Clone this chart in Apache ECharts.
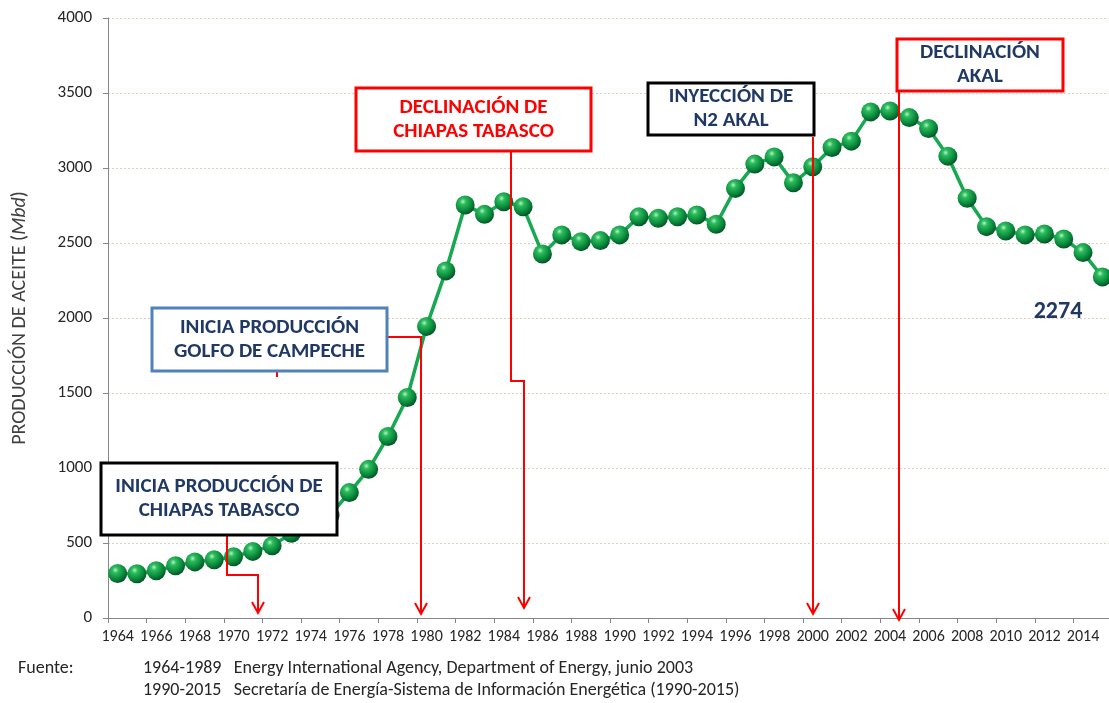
<!DOCTYPE html>
<html>
<head>
<meta charset="utf-8">
<title>Producción de aceite</title>
<script src="https://cdn.jsdelivr.net/npm/echarts@6/dist/echarts.min.js"></script>
<style>
  html, body { margin: 0; padding: 0; background: #fff; }
  #chart { width: 1109px; height: 703px; }
</style>
</head>
<body>
<div id="chart"></div>
<script>
// años (eje X)
const years = [
  '1964', '1965', '1966', '1967', '1968', '1969', '1970', '1971', '1972', '1973',
  '1974', '1975', '1976', '1977', '1978', '1979', '1980', '1981', '1982', '1983',
  '1984', '1985', '1986', '1987', '1988', '1989', '1990', '1991', '1992', '1993',
  '1994', '1995', '1996', '1997', '1998', '1999', '2000', '2001', '2002', '2003',
  '2004', '2005', '2006', '2007', '2008', '2009', '2010', '2011', '2012', '2013',
  '2014', '2015'
];
// producción de aceite, Mbd
const production = [
  297, 295, 315, 348, 374, 388, 408, 444, 481, 565,
  620, 685, 836, 991, 1210, 1470, 1944, 2314, 2753, 2691,
  2775, 2742, 2427, 2554, 2509, 2516, 2554, 2675, 2665, 2675,
  2687, 2625, 2864, 3026, 3074, 2901, 3008, 3137, 3179, 3374,
  3380, 3336, 3263, 3079, 2798, 2609, 2580, 2554, 2560, 2527,
  2436, 2274
];
const lastValue = '2274';

const fontFamily = 'Carlito, Lato, "Open Sans", sans-serif';
const navy = '#1f3864';
const red = '#ff0000';

// cuadros de texto de las anotaciones
const notes = [
  { lines: ['INICIA PRODUCCIÓN DE', 'CHIAPAS TABASCO'], x: 101, y: 463, w: 236, h: 72, border: '#000000', color: navy },
  { lines: ['INICIA PRODUCCIÓN', 'GOLFO DE CAMPECHE'], x: 152, y: 308, w: 235, h: 63, border: '#4f81bd', color: navy },
  { lines: ['DECLINACIÓN DE', 'CHIAPAS TABASCO'], x: 356, y: 88, w: 235, h: 63, border: red, color: red },
  { lines: ['INYECCIÓN DE', 'N2 AKAL'], x: 648, y: 83, w: 166, h: 52, border: '#000000', color: navy },
  { lines: ['DECLINACIÓN', 'AKAL'], x: 897, y: 39, w: 166, h: 52, border: red, color: navy }
];
// flechas rojas (polilíneas que terminan en punta)
const arrows = [
  [[227, 535], [227, 575], [258, 575], [258, 613]],
  [[387, 337], [421, 337], [421, 614]],
  [[511, 151], [511, 381], [524, 381], [524, 608]],
  [[813, 137], [813, 614]],
  [[899, 91], [899, 620]]
];

const chart = echarts.init(document.getElementById('chart'));

const graphics = [];
arrows.forEach(pts => {
  graphics.push({
    type: 'polyline', z: 5,
    shape: { points: pts },
    style: { stroke: red, lineWidth: 2, fill: null }
  });
  const tip = pts[pts.length - 1];
  graphics.push({
    type: 'polyline', z: 5,
    shape: { points: [[tip[0] - 6, tip[1] - 11], tip, [tip[0] + 6, tip[1] - 11]] },
    style: { stroke: red, lineWidth: 2, fill: null }
  });
});
// pequeña marca roja bajo el cuadro de Campeche
graphics.push({
  type: 'line', z: 5,
  shape: { x1: 277, y1: 372, x2: 277, y2: 377 },
  style: { stroke: red, lineWidth: 2 }
});
notes.forEach(n => {
  graphics.push({
    type: 'rect', z: 10,
    shape: { x: n.x, y: n.y, width: n.w, height: n.h },
    style: { fill: '#fff', stroke: n.border, lineWidth: 3 }
  });
  const cy = n.y + n.h / 2;
  n.lines.forEach((t, i) => {
    graphics.push({
      type: 'text', z: 11,
      x: n.x + n.w / 2,
      y: cy + (i - 0.5) * 24,
      style: {
        text: t, fill: n.color, font: 'bold 21px ' + fontFamily,
        textAlign: 'center', textVerticalAlign: 'middle'
      }
    });
  });
});
graphics.push({
  type: 'text', z: 11, x: 1058, y: 312,
  style: { text: lastValue, fill: navy, font: 'bold 24px ' + fontFamily, textAlign: 'center', textVerticalAlign: 'middle' }
});
// fuente
[
  ['Fuente:', 18, 668],
  ['1964-1989   Energy International Agency, Department of Energy, junio 2003', 143, 668],
  ['1990-2015   Secretaría de Energía-Sistema de Información Energética (1990-2015)', 143, 690]
].forEach(([t, x, y]) => {
  graphics.push({
    type: 'text', x: x, y: y,
    style: { text: t, fill: '#262626', font: '18px ' + fontFamily, textVerticalAlign: 'middle' }
  });
});

const sphere = new echarts.graphic.RadialGradient(0.38, 0.32, 0.72, [
  { offset: 0, color: '#b5f2c4' },
  { offset: 0.22, color: '#2cbc5e' },
  { offset: 0.65, color: '#0a8a3b' },
  { offset: 1, color: '#034d25' }
]);

chart.setOption({
  animation: false,
  backgroundColor: '#fff',
  grid: { left: 108, right: -3, top: 18, bottom: 85, containLabel: false, outerBoundsMode: 'none' },
  xAxis: {
    type: 'category',
    data: years,
    boundaryGap: true,
    axisLine: { lineStyle: { color: '#868686', width: 1 } },
    axisTick: { show: true, interval: 1, length: 5, lineStyle: { color: '#868686' } },
    axisLabel: { interval: 1, color: '#262626', fontSize: 16, fontFamily: fontFamily, margin: 11 },
    splitLine: { show: false }
  },
  yAxis: {
    type: 'value',
    min: 0, max: 4000, interval: 500,
    name: '{n|PRODUCCIÓN DE ACEITE (}{i|Mbd}{n|)}',
    nameLocation: 'middle',
    nameRotate: 90,
    nameGap: 78,
    nameTextStyle: {
      rich: {
        n: { fontSize: 20, color: '#404040', fontFamily: fontFamily },
        i: { fontSize: 20, color: '#404040', fontFamily: fontFamily, fontStyle: 'italic' }
      }
    },
    axisLine: { show: true, lineStyle: { color: '#868686', width: 1 } },
    axisTick: { show: true, length: 5, lineStyle: { color: '#868686' } },
    axisLabel: {
      color: '#262626', fontSize: 17, fontFamily: fontFamily, margin: 16,
      formatter: v => String(v)
    },
    splitLine: { lineStyle: { color: '#d9d2bd', type: [2, 2], width: 1 } }
  },
  series: [{
    type: 'line',
    data: production,
    symbol: 'circle',
    symbolSize: 19,
    showAllSymbol: true,
    lineStyle: { color: '#17a852', width: 3.5 },
    itemStyle: { color: sphere, borderWidth: 0 },
    z: 3
  }],
  graphic: graphics
});
</script>
</body>
</html>
